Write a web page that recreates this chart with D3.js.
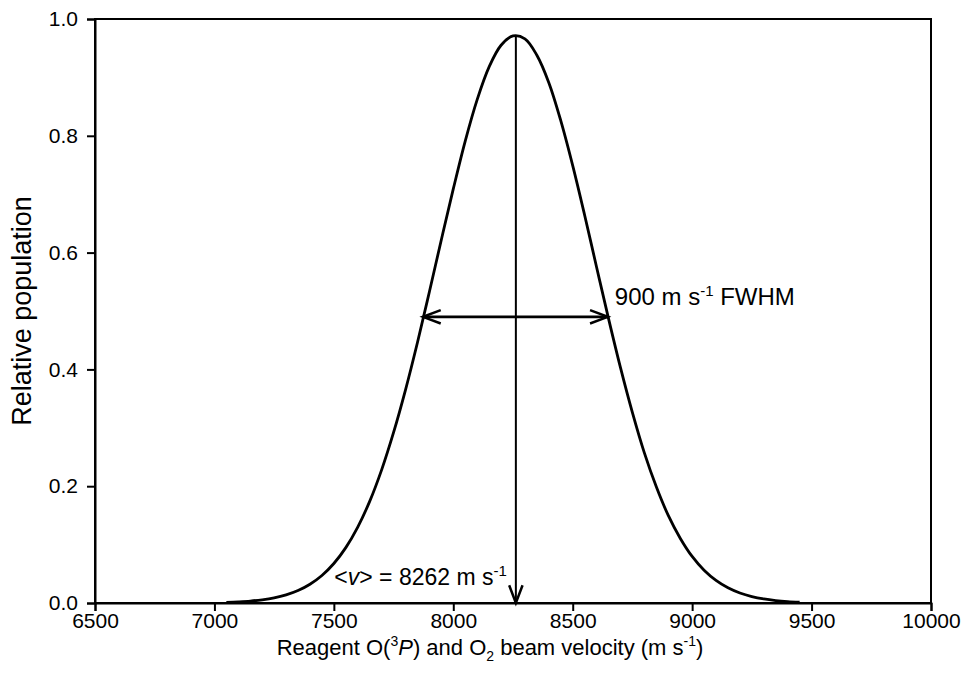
<!DOCTYPE html>
<html>
<head>
<meta charset="utf-8">
<script src="https://cdn.jsdelivr.net/npm/d3@7"></script>
<style>
  body { margin: 0; background: #fff; }
  text { font-family: "Liberation Sans", Arial, sans-serif; fill: #000; }
</style>
</head>
<body>
<svg id="chart" width="965" height="685"></svg>
<script>
// velocity values (m/s) and relative population
const velocity = [7050, 7100, 7150, 7200, 7250, 7300, 7350, 7400, 7450, 7500,
  7550, 7600, 7650, 7700, 7750, 7800, 7850, 7900, 7950, 8000,
  8050, 8100, 8150, 8200, 8250, 8300, 8350, 8400, 8450, 8500,
  8550, 8600, 8650, 8700, 8750, 8800, 8850, 8900, 8950, 9000,
  9050, 9100, 9150, 9200, 9250, 9300, 9350, 9400, 9450];
const population = [0.0011, 0.0020, 0.0033, 0.0055, 0.0088, 0.0139, 0.0213, 0.0321, 0.0471, 0.0676,
  0.0948, 0.130, 0.174, 0.228, 0.292, 0.365, 0.446, 0.533, 0.622, 0.709,
  0.791, 0.862, 0.918, 0.955, 0.971, 0.966, 0.938, 0.891, 0.826, 0.749,
  0.664, 0.575, 0.487, 0.403, 0.326, 0.257, 0.199, 0.150, 0.111, 0.0797,
  0.0562, 0.0387, 0.0260, 0.0171, 0.0110, 0.0069, 0.0042, 0.0025, 0.0015];

const xTicks = [6500, 7000, 7500, 8000, 8500, 9000, 9500, 10000];
const yTicks = [0.0, 0.2, 0.4, 0.6, 0.8, 1.0];

// annotations
const meanV = 8262;
const meanPeak = 0.972;
const fwhmEnds = [7873, 8647];
const fwhmLevel = 0.49;

const margin = {left: 95, right: 34, top: 19, bottom: 82};
const width = 965, height = 685;

const svg = d3.select('#chart');

const x = d3.scaleLinear()
  .domain([6500, 10000])
  .range([margin.left, width - margin.right]);

const y = d3.scaleLinear()
  .domain([0, 1])
  .range([height - margin.bottom, margin.top]);

// frame
svg.append('rect')
  .attr('x', x(6500))
  .attr('y', y(1))
  .attr('width', x(10000) - x(6500))
  .attr('height', y(0) - y(1))
  .attr('fill', 'none')
  .attr('stroke', 'black')
  .attr('stroke-width', 2);

// axes
const xAxis = svg.append('g')
  .attr('transform', `translate(0, ${y(0)})`)
  .call(d3.axisBottom(x).tickValues(xTicks).tickSizeOuter(0).tickSize(8).tickPadding(2).tickFormat(d3.format('d')));

const yAxis = svg.append('g')
  .attr('transform', `translate(${x(6500)}, 0)`)
  .call(d3.axisLeft(y).tickValues(yTicks).tickSizeOuter(0).tickSize(8).tickPadding(9).tickFormat(d3.format('.1f')));

[xAxis, yAxis].forEach(ax => {
  ax.select('.domain').attr('stroke-width', 2);
  ax.selectAll('.tick line').attr('stroke-width', 2);
  ax.selectAll('.tick text')
    .style('font-size', '21px')
    .style('font-family', '"Liberation Sans", Arial, sans-serif');
});

// curve
const points = velocity.map((v, i) => [v, population[i]]);
const line = d3.line()
  .x(d => x(d[0]))
  .y(d => y(d[1]))
  .curve(d3.curveCatmullRom);

svg.append('path')
  .datum(points)
  .attr('d', line)
  .attr('fill', 'none')
  .attr('stroke', 'black')
  .attr('stroke-width', 2.8);

// open arrow heads drawn as small V shapes
function arrowHead(tipX, tipY, angle) {
  const len = 19, spread = 0.36;
  const p = d3.path();
  p.moveTo(tipX + len * Math.cos(angle - spread), tipY + len * Math.sin(angle - spread));
  p.lineTo(tipX, tipY);
  p.lineTo(tipX + len * Math.cos(angle + spread), tipY + len * Math.sin(angle + spread));
  svg.append('path')
    .attr('d', p.toString())
    .attr('fill', 'none')
    .attr('stroke', 'black')
    .attr('stroke-width', 2.5);
}

// vertical line at mean velocity
svg.append('line')
  .attr('x1', x(meanV)).attr('x2', x(meanV))
  .attr('y1', y(meanPeak)).attr('y2', y(0))
  .attr('stroke', 'black')
  .attr('stroke-width', 2);
arrowHead(x(meanV), y(0), -Math.PI / 2);

// FWHM double arrow
svg.append('line')
  .attr('x1', x(fwhmEnds[0])).attr('x2', x(fwhmEnds[1]))
  .attr('y1', y(fwhmLevel)).attr('y2', y(fwhmLevel))
  .attr('stroke', 'black')
  .attr('stroke-width', 2.8);
arrowHead(x(fwhmEnds[0]), y(fwhmLevel), 0);
arrowHead(x(fwhmEnds[1]), y(fwhmLevel), Math.PI);

// FWHM label
const fwhmText = svg.append('text')
  .attr('x', x(fwhmEnds[1]) + 7)
  .attr('y', 305)
  .style('font-size', '24px');
fwhmText.append('tspan').text('900 m s');
fwhmText.append('tspan').attr('dy', -9).style('font-size', '15px').text('-1');
fwhmText.append('tspan').attr('dy', 9).text(' FWHM');

// mean label
const meanText = svg.append('text')
  .attr('x', x(meanV) - 9)
  .attr('y', 585)
  .attr('text-anchor', 'end')
  .style('font-size', '23px');
meanText.append('tspan').text('<');
meanText.append('tspan').style('font-style', 'italic').text('v');
meanText.append('tspan').text('> = 8262 m s');
meanText.append('tspan').attr('dy', -9).style('font-size', '15px').text('-1');

// axis titles
const xTitle = svg.append('text')
  .attr('x', 490)
  .attr('y', 655)
  .attr('text-anchor', 'middle')
  .style('font-size', '22px');
xTitle.append('tspan').text('Reagent O(');
xTitle.append('tspan').attr('dy', -9).style('font-size', '14px').text('3');
xTitle.append('tspan').attr('dy', 9).style('font-style', 'italic').text('P');
xTitle.append('tspan').text(') and O');
xTitle.append('tspan').attr('dy', 6).style('font-size', '14px').text('2');
xTitle.append('tspan').attr('dy', -6).text(' beam velocity (m s');
xTitle.append('tspan').attr('dy', -9).style('font-size', '14px').text('-1');
xTitle.append('tspan').attr('dy', 9).text(')');

svg.append('text')
  .attr('transform', `translate(31, ${(y(0) + y(1)) / 2}) rotate(-90)`)
  .attr('text-anchor', 'middle')
  .style('font-size', '27px')
  .text('Relative population');
</script>
</body>
</html>
